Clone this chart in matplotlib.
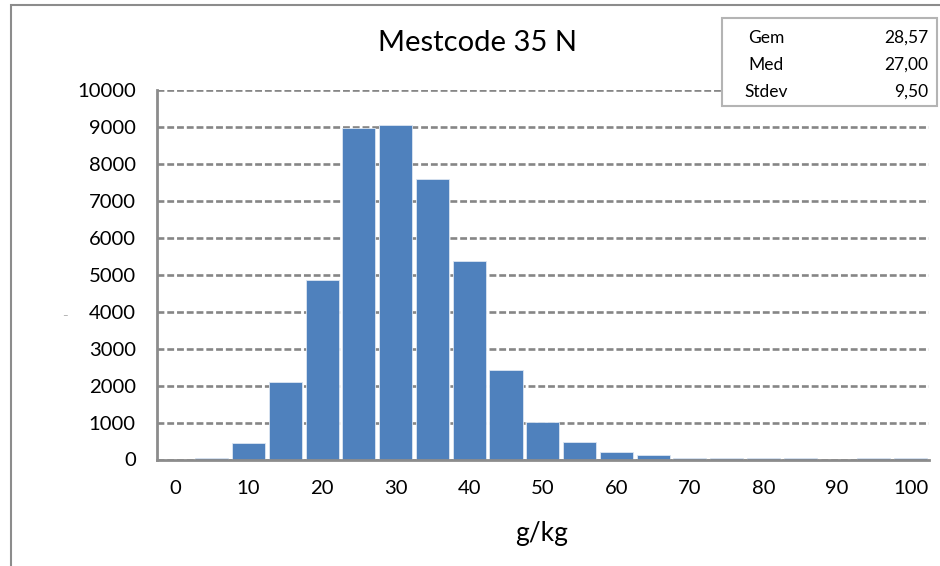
import numpy as np
import matplotlib.pyplot as plt
from matplotlib.patches import Rectangle

plt.rcParams['font.family'] = ['Lato', 'DejaVu Sans']

# histogram classes (g/kg) and counts
klassen = [0, 5, 10, 15, 20, 25, 30, 35, 40, 45, 50,
           55, 60, 65, 70, 75, 80, 85, 90, 95, 100]
aantal = [0, 40, 460, 2090, 4860, 8960, 9060, 7590, 5370, 2410, 1010,
          485, 205, 115, 40, 40, 40, 40, 0, 40, 40]
xlabels = [str(k) if k % 10 == 0 else '' for k in klassen]

stat_namen = ['Gem', 'Med', 'Stdev']
stat_waarden = ['28,57', '27,00', '9,50']

W, H = 940, 566
fig = plt.figure(figsize=(W / 100, H / 100), dpi=100)

def fx(px):
    return px / W

def fy(py):
    return 1 - py / H

# outer chart border
fig.patches.append(Rectangle((fx(10.5), fy(575)), fx(940), fy(5.5) - fy(575),
                             transform=fig.transFigure, fill=False,
                             edgecolor='#8c8c8c', lw=1.5))

ax = fig.add_axes([fx(156.6), fy(459.5), fx(929) - fx(156.6), fy(90) - fy(459.5)])
pos = np.arange(len(klassen))
ax.bar(pos, aantal, width=0.9, color='#4f81bd', edgecolor='#dce6f2', lw=0.6, zorder=3)
ax.set_xlim(-0.5, len(klassen) - 0.5)
ax.set_ylim(0, 10000)
ax.set_yticks(np.arange(0, 10001, 1000))
ax.set_xticks(pos)
ax.set_xticklabels(xlabels)
ax.tick_params(length=0, labelsize=14.6, colors='black')
ax.tick_params(axis='y', pad=15)
ax.tick_params(axis='x', pad=15)
ax.yaxis.grid(True, color='#868686', lw=1.9, dashes=(2.6, 1.1), zorder=1)
for s in ['top', 'right']:
    ax.spines[s].set_visible(False)
for s in ['left', 'bottom']:
    ax.spines[s].set_color('#8c8c8c')
    ax.spines[s].set_linewidth(2)
ax.spines['bottom'].set_zorder(4)

fig.text(fx(477), fy(43), 'Mestcode 35 N', ha='center', va='center', fontsize=21)
fig.text(fx(542), fy(533), 'g/kg', ha='center', va='center', fontsize=19)
fig.text(fx(65), fy(316), '–', ha='center', va='center', fontsize=7, color='#a0a0a0')

# stats box
fig.patches.append(Rectangle((fx(722), fy(106)), fx(937) - fx(722), fy(18) - fy(106),
                             transform=fig.transFigure, fill=True, facecolor='white',
                             edgecolor='#b4b4b4', lw=1.5, zorder=5))
for i, (n, v) in enumerate(zip(stat_namen, stat_waarden)):
    y = 38 + i * 27
    fig.text(fx(766), fy(y), n, ha='center', va='center', fontsize=12.5, zorder=6)
    fig.text(fx(928), fy(y), v, ha='right', va='center', fontsize=12.5, zorder=6)

fig.savefig('out.png', dpi=100)
